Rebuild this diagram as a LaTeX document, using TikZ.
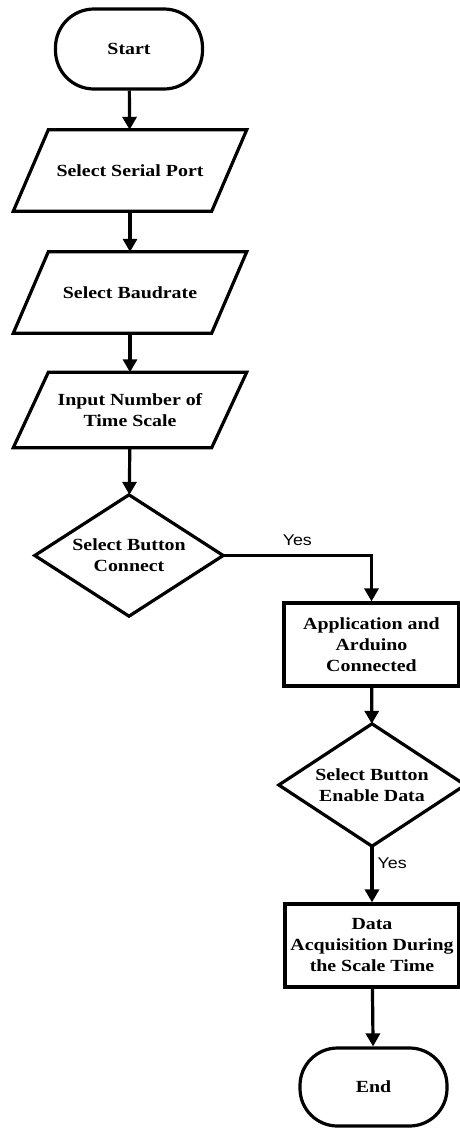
\documentclass[tikz,border=0pt]{standalone}
\usepackage{fontspec}
\setmainfont{Liberation Serif}[FakeStretch=1.17]
\newfontfamily\yesfont{Liberation Sans}[FakeStretch=1.15]
\usetikzlibrary{arrows.meta,calc}
\begin{document}
\begin{tikzpicture}[x=1pt,y=-1pt,
 shapeline/.style={line width=3.2pt, line join=miter},
 txt/.style={font=\fontsize{17}{21}\selectfont\bfseries, align=center, inner sep=0pt},
 term/.style={txt, draw, shapeline, rounded corners=38.5pt, minimum width=147pt, minimum height=80pt},
 io/.style={txt, minimum width=198pt, minimum height=81pt},
 dec/.style={txt},
 proc/.style={txt, draw, shapeline, minimum width=175pt, minimum height=83pt},
 flow/.style={line width=3.2pt, -{Triangle[length=13pt,width=14pt]}},
 yes/.style={font=\yesfont\fontsize{15.5}{18}\selectfont, inner sep=0pt}
]
\fill[white] (0,0) rectangle (460,1128);
\useasboundingbox (0,0) rectangle (460,1128);

\node[term] (start) at (129,49) {Start};
\node[io] (p1) at (130,170.5) {Select Serial Port};
\node[io] (p2) at (130,292.5) {Select Baudrate};
\node[io, minimum height=75pt] (p3) at (130,410) {Input Number of\\Time Scale};
\node[dec, minimum width=188pt, minimum height=121pt] (d1) at (129,555.5) {Select Button\\Connect};
\node[proc] (b1) at (371.5,644.5) {Application and\\Arduino\\Connected};
\node[dec, minimum width=186pt, minimum height=122pt] (d2) at (372,785) {Select Button\\Enable Data};
\node[proc, minimum width=174pt] (b2) at (372,945.5) {Data\\Acquisition During\\the Scale Time};
\node[term, minimum height=78pt, rounded corners=37.5pt] (end) at (373.5,1087) {End};

\foreach \n in {p1,p2,p3}
  \draw[shapeline] ($(\n.north west)+(17.5,0)$) -- ($(\n.north east)+(17.5,0)$)
     -- ($(\n.south east)+(-17.5,0)$) -- ($(\n.south west)+(-17.5,0)$) -- cycle;
\foreach \n in {d1,d2}
  \draw[shapeline] (\n.north) -- (\n.east) -- (\n.south) -- (\n.west) -- cycle;

\draw[flow] (start) -- (p1);
\draw[flow] (p1) -- (p2);
\draw[flow] (p2) -- (p3);
\draw[flow] (p3) -- (d1);
\draw[flow] (d1.east) -| node[yes, pos=0.25, above=8pt] (yes1) {Yes} (b1.north);
\draw[flow] (b1) -- (d2);
\draw[flow] (d2) -- node[yes, pos=0.3, right=4pt] (yes2) {Yes} (b2);
\draw[flow] (b2) -- (end);
\end{tikzpicture}
\end{document}
